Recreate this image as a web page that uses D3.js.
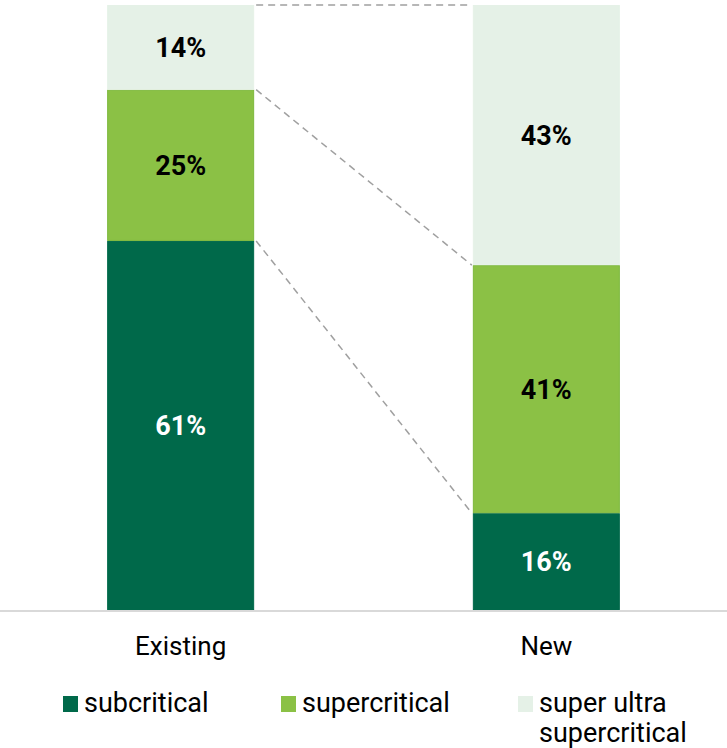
<!DOCTYPE html>
<html>
<head>
<meta charset="utf-8">
<script src="https://cdn.jsdelivr.net/npm/d3@7"></script>
<style>
  body { margin: 0; background: #fff; }
  text { font-family: "Liberation Sans Narrow", "Roboto", sans-serif; }
</style>
</head>
<body>
<div id="chart"></div>
<script>
var width = 727,
    height = 748;

// data
var categories = ["Existing", "New"];
var seriesNames = ["subcritical", "supercritical", "super ultra supercritical"];
var subcritical = [61, 16];
var supercritical = [25, 41];
var superUltra = [14, 43];

var colors = ["#00694a", "#8bc145", "#e5f1e7"];
var strokes = ["#00694a", "#7db83c", "#e5f1e7"];
var labelColors = ["#fff", "#000", "#000"];

var rows = categories.map(function(c, i) {
    return { cat: c, subcritical: subcritical[i], supercritical: supercritical[i], superUltra: superUltra[i] };
});
var keys = ["subcritical", "supercritical", "superUltra"];
var stacked = d3.stack().keys(keys)(rows);

var svg = d3.select("#chart")
    .append("svg")
    .attr("width", width)
    .attr("height", height);

var x = d3.scaleBand()
    .domain(categories)
    .range([0, width])
    .paddingInner(0.598)
    .paddingOuter(0.293);

var y = d3.scaleLinear()
    .domain([0, 100])
    .range([610, 5]);

// bars
var layers = svg.append("g")
    .selectAll("g")
    .data(stacked)
    .enter()
    .append("g")
    .attr("fill", function(d, i) { return colors[i]; })
    .attr("stroke", function(d, i) { return strokes[i]; });

layers.selectAll("rect")
    .data(function(d) { return d; })
    .enter()
    .append("rect")
    .attr("x", function(d) { return x(d.data.cat) + 0.5; })
    .attr("y", function(d) { return y(d[1]) + 0.5; })
    .attr("width", x.bandwidth() - 1)
    .attr("height", function(d) { return y(d[0]) - y(d[1]) - 1; })
    .attr("stroke-width", 1);

// connector dashed lines
var xa = x(categories[0]) + x.bandwidth(),
    xb = x(categories[1]);
svg.append("g")
    .selectAll("line")
    .data(stacked)
    .enter()
    .append("line")
    .attr("x1", xa + 2)
    .attr("y1", function(d) { return y(d[0][1]); })
    .attr("x2", xb - 1)
    .attr("y2", function(d) { return y(d[1][1]); })
    .attr("stroke", "#a0a0a0")
    .attr("stroke-width", 1.5)
    .attr("stroke-dasharray", "7,5");

// value labels
layers.each(function(s, i) {
    d3.select(this).selectAll("text")
        .data(s)
        .enter()
        .append("text")
        .attr("x", function(d) { return x(d.data.cat) + x.bandwidth() / 2; })
        .attr("y", function(d) { return (y(d[0]) + y(d[1])) / 2; })
        .attr("dy", "0.36em")
        .attr("text-anchor", "middle")
        .attr("stroke", "none")
        .attr("fill", labelColors[i])
        .style("font-size", "27px")
        .style("font-weight", "bold")
        .text(function(d) { return (d[1] - d[0]) + "%"; });
});

// baseline
svg.append("line")
    .attr("x1", 0)
    .attr("x2", width)
    .attr("y1", 611)
    .attr("y2", 611)
    .attr("stroke", "#d9d9d9")
    .attr("stroke-width", 2);

// category labels
svg.append("g")
    .selectAll("text")
    .data(categories)
    .enter()
    .append("text")
    .attr("x", function(d) { return x(d) + x.bandwidth() / 2; })
    .attr("y", 655)
    .attr("text-anchor", "middle")
    .style("font-size", "26px")
    .attr("fill", "#000")
    .text(function(d) { return d; });

// legend
var legendX = [63, 281, 518];
var legend = svg.append("g")
    .selectAll("g")
    .data(seriesNames)
    .enter()
    .append("g")
    .attr("transform", function(d, i) { return "translate(" + legendX[i] + ",712)"; });

legend.append("rect")
    .attr("x", 0)
    .attr("y", -16)
    .attr("width", 15)
    .attr("height", 16)
    .attr("fill", function(d, i) { return colors[i]; });

legend.append("text")
    .attr("x", 21)
    .attr("y", 0)
    .style("font-size", "27px")
    .attr("fill", "#000")
    .each(function(d) {
        var t = d3.select(this),
            words = d.split(" "),
            line = [],
            lines = [];
        words.forEach(function(w) {
            line.push(w);
            t.text(line.join(" "));
            if (this.getComputedTextLength() > 170 && line.length > 1) {
                line.pop();
                lines.push(line.join(" "));
                line = [w];
            }
        }, this);
        lines.push(line.join(" "));
        t.text(null);
        lines.forEach(function(l, k) {
            t.append("tspan").attr("x", 21).attr("dy", k === 0 ? 0 : 30).text(l);
        });
    });
</script>
</body>
</html>
